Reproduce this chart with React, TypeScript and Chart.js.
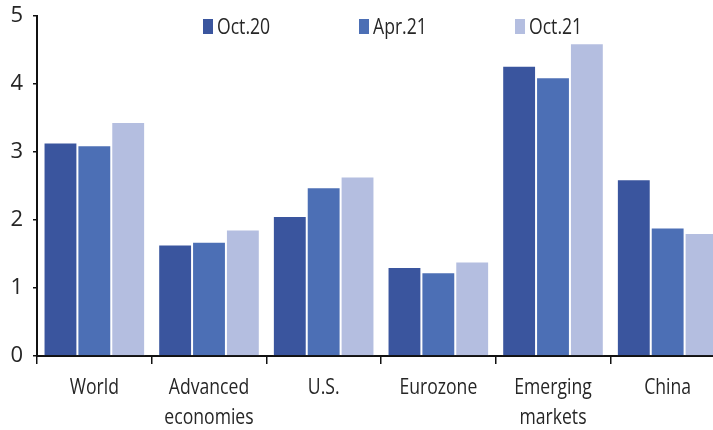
import React, { useEffect, useRef } from "react";
import { Chart, registerables } from "chart.js";

Chart.register(...registerables);

const categories: (string | string[])[] = [
  "World",
  ["Advanced", "economies"],
  "U.S.",
  "Eurozone",
  ["Emerging", "markets"],
  "China",
];

const seriesNames = ["Oct.20", "Apr.21", "Oct.21"];

const oct20 = [3.14, 1.64, 2.06, 1.31, 4.27, 2.6];
const apr21 = [3.1, 1.68, 2.48, 1.23, 4.1, 1.89];
const oct21 = [3.44, 1.86, 2.64, 1.39, 4.6, 1.81];

const seriesColors = ["#3a559e", "#4c6fb5", "#b4bee0"];

const yTicks = [0, 1, 2, 3, 4, 5];

const FONT = "'Open Sans', 'DejaVu Sans Condensed', sans-serif";
const TEXT = "#262626";
const SQUEEZE = 0.8; // horizontal squeeze for a condensed look

function condensedText(ctx: CanvasRenderingContext2D, text: string, x: number, y: number) {
  ctx.save();
  ctx.translate(x, y);
  ctx.scale(SQUEEZE, 1);
  ctx.fillText(text, 0, 0);
  ctx.restore();
}

// Legend: small boxes with labels placed over the top of the plot
const topLegend = {
  id: "topLegend",
  afterDraw(chart: Chart) {
    const { ctx } = chart;
    const startX = 203;
    const step = 156;
    ctx.save();
    ctx.font = `22px ${FONT}`;
    ctx.textBaseline = "alphabetic";
    ctx.textAlign = "left";
    chart.data.datasets.forEach((ds, i) => {
      const x = startX + i * step;
      ctx.fillStyle = ds.backgroundColor as string;
      ctx.fillRect(x, 19, 10, 15);
      ctx.fillStyle = TEXT;
      condensedText(ctx, String(ds.label), x + 14, 34);
    });
    ctx.restore();
  },
};

// Category labels under the x axis, one or two lines each
const categoryLabels = {
  id: "categoryLabels",
  afterDraw(chart: Chart) {
    const { ctx } = chart;
    const xScale = chart.scales.x;
    ctx.save();
    ctx.font = `22px ${FONT}`;
    ctx.textAlign = "center";
    ctx.textBaseline = "alphabetic";
    ctx.fillStyle = TEXT;
    (chart.data.labels as (string | string[])[]).forEach((label, i) => {
      const x = xScale.getPixelForTick(i);
      const lines = Array.isArray(label) ? label : [label];
      lines.forEach((line, j) => {
        condensedText(ctx, line, x, xScale.top + 38 + j * 30);
      });
    });
    ctx.restore();
  },
};

export default function App() {
  const canvasRef = useRef<HTMLCanvasElement | null>(null);

  useEffect(() => {
    if (!canvasRef.current) return;
    const values = [oct20, apr21, oct21];
    const chart = new Chart(canvasRef.current, {
      type: "bar",
      data: {
        labels: categories,
        datasets: seriesNames.map((name, i) => ({
          label: name,
          data: values[i],
          backgroundColor: seriesColors[i],
          borderColor: "rgba(255,255,255,0.85)",
          borderWidth: 1,
          borderSkipped: "start",
          categoryPercentage: 0.886,
          barPercentage: 1,
        })),
      },
      options: {
        responsive: false,
        maintainAspectRatio: false,
        animation: false,
        devicePixelRatio: 1,
        layout: { padding: { top: 16, left: 0, right: 0, bottom: 0 } },
        plugins: {
          legend: { display: false },
          tooltip: { enabled: false },
        },
        scales: {
          x: {
            offset: true,
            grid: {
              offset: true,
              drawOnChartArea: false,
              drawTicks: true,
              tickLength: 8,
              color: "#111",
              lineWidth: 1.5,
            },
            border: { display: true, color: "#111", width: 2 },
            ticks: { display: false },
            afterFit(scale: any) {
              scale.height = 74;
              scale.paddingLeft = 0;
              scale.paddingRight = 0;
            },
          },
          y: {
            min: 0,
            max: 5,
            afterBuildTicks(scale: any) {
              scale.ticks = yTicks.map((v) => ({ value: v }));
            },
            grid: {
              drawOnChartArea: false,
              drawTicks: true,
              tickLength: 4,
              color: "#111",
              lineWidth: 1.5,
            },
            border: { display: true, color: "#111", width: 2 },
            ticks: {
              color: TEXT,
              font: { family: FONT, size: 22 },
              padding: 10,
            },
            afterFit(scale: any) {
              scale.width = 37;
              scale.paddingTop = 0;
              scale.paddingBottom = 0;
            },
          },
        },
      },
      plugins: [topLegend, categoryLabels],
    });
    return () => chart.destroy();
  }, []);

  return (
    <div
      style={{
        position: "absolute",
        left: 0,
        top: 0,
        width: 713,
        height: 430,
        overflow: "hidden",
        background: "#fff",
      }}
    >
      <canvas ref={canvasRef} width={725} height={430} style={{ display: "block" }} />
    </div>
  );
}
